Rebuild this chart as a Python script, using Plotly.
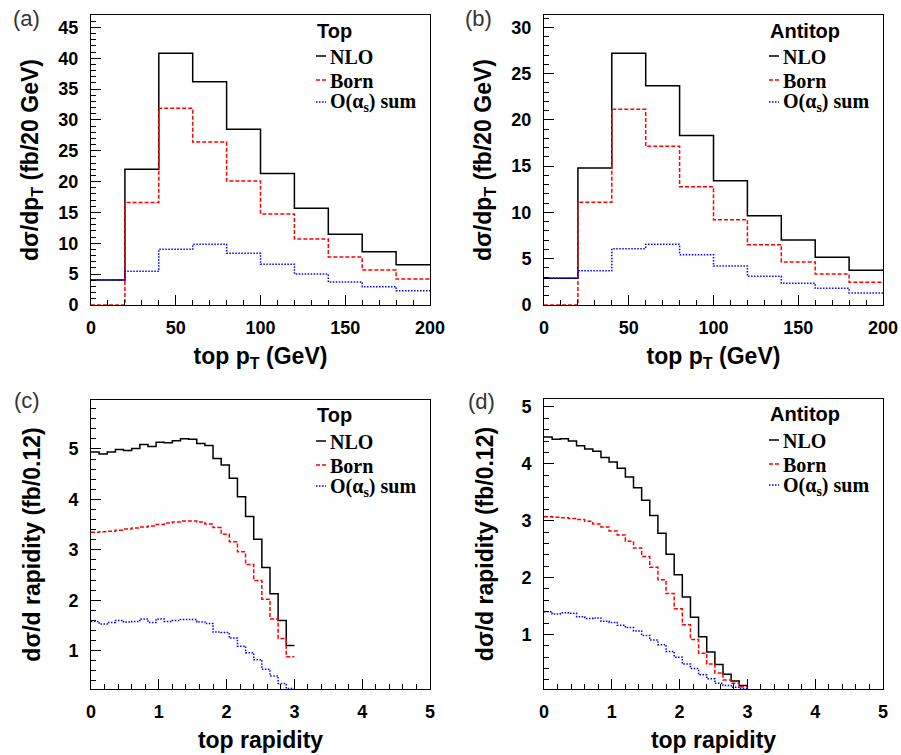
import plotly.graph_objects as go

# bin edges
pt_edges = [0, 20, 40, 60, 80, 100, 120, 140, 160, 180, 200]
rap_edges = [0.0, 0.12, 0.24, 0.36, 0.48, 0.6, 0.72, 0.84, 0.96, 1.08, 1.2, 1.32, 1.44,
             1.56, 1.68, 1.8, 1.92, 2.04, 2.16, 2.28, 2.4, 2.52, 2.64, 2.76, 2.88, 3.0]

# (a) top pT, fb/20 GeV
top_pt_nlo = [4.05, 22.0, 40.8, 36.2, 28.5, 21.3, 15.7, 11.45, 8.64, 6.54]
top_pt_born = [0.0, 16.6, 31.9, 26.4, 20.1, 14.75, 10.7, 7.78, 5.67, 4.21]
top_pt_oas = [4.05, 5.46, 9.02, 9.83, 8.37, 6.59, 5.02, 3.73, 2.97, 2.32]

# (b) antitop pT
atop_pt_nlo = [2.88, 14.8, 27.2, 23.7, 18.3, 13.43, 9.65, 7.02, 5.15, 3.75]
atop_pt_born = [0.0, 11.09, 21.14, 17.14, 12.78, 9.22, 6.52, 4.65, 3.35, 2.45]
atop_pt_oas = [2.88, 3.71, 6.09, 6.55, 5.44, 4.21, 3.10, 2.34, 1.80, 1.30]

# (c) top rapidity, fb/0.12
top_y_nlo = [4.94, 4.90, 4.94, 4.99, 4.97, 5.01, 5.09, 5.05, 5.13, 5.12, 5.16, 5.20, 5.19,
             5.11, 5.07, 4.81, 4.68, 4.42, 4.05, 3.66, 3.21, 2.65, 2.13, 1.60, 1.10]
top_y_born = [3.35, 3.36, 3.37, 3.39, 3.41, 3.43, 3.45, 3.47, 3.50, 3.53, 3.55, 3.57, 3.57,
              3.55, 3.51, 3.44, 3.31, 3.16, 2.96, 2.71, 2.39, 2.02, 1.63, 1.24, 0.88]
top_y_oas = [1.58, 1.53, 1.56, 1.60, 1.57, 1.58, 1.63, 1.56, 1.63, 1.58, 1.60, 1.62, 1.62,
             1.57, 1.54, 1.37, 1.36, 1.25, 1.09, 0.96, 0.82, 0.63, 0.50, 0.35, 0.25]

# (d) antitop rapidity
atop_y_nlo = [4.47, 4.43, 4.44, 4.40, 4.32, 4.26, 4.22, 4.11, 4.03, 3.92, 3.77, 3.58, 3.36,
              3.09, 2.78, 2.41, 2.05, 1.66, 1.30, 0.96, 0.69, 0.47, 0.30, 0.18, 0.10]
atop_y_born = [3.07, 3.06, 3.05, 3.04, 3.02, 2.99, 2.94, 2.89, 2.82, 2.75, 2.64, 2.52, 2.37,
               2.18, 1.96, 1.72, 1.45, 1.17, 0.91, 0.67, 0.48, 0.32, 0.20, 0.14, 0.08]
atop_y_oas = [1.40, 1.36, 1.38, 1.37, 1.31, 1.28, 1.29, 1.23, 1.21, 1.16, 1.12, 1.06, 0.98,
              0.90, 0.82, 0.70, 0.60, 0.48, 0.40, 0.29, 0.22, 0.14, 0.10, 0.07, 0.05]

W, H = 901, 755
def px(x):
    return x / W
def py(y):
    return 1 - y / H

SANS = "Liberation Sans"
SERIF = "Liberation Serif"

styles = [
    dict(name="NLO", color="black", dash="solid"),
    dict(name="Born", color="red", dash="4px,2px"),
    dict(name="O(α<sub>s</sub>) sum", color="blue", dash="1.5px,1.5px"),
]

panels = [
    dict(label="(a)", lab_xy=(26, 19), head="Top", edges=pt_edges,
         data=[top_pt_nlo, top_pt_born, top_pt_oas],
         box=(91, 430, 15, 305), xr=[0, 200], yr=[0, 47.0],
         xd=(50, 10), yd=(5, 1), xt="top p<sub>T</sub> (GeV)",
         yt="dσ/dp<sub>T</sub> (fb/20 GeV)", ystand=13),
    dict(label="(b)", lab_xy=(478, 18), head="Antitop", edges=pt_edges,
         data=[atop_pt_nlo, atop_pt_born, atop_pt_oas],
         box=(544, 883, 15, 305), xr=[0, 200], yr=[0, 31.33],
         xd=(50, 10), yd=(5, 1), xt="top p<sub>T</sub> (GeV)",
         yt="dσ/dp<sub>T</sub> (fb/20 GeV)", ystand=13),
    dict(label="(c)", lab_xy=(27, 400), head="Top", edges=rap_edges,
         data=[top_y_nlo, top_y_born, top_y_oas],
         box=(91, 430, 400, 689), xr=[0, 5], yr=[0.24, 5.97],
         xd=(1, 0.2), yd=(1, 0.2), xt="top rapidity",
         yt="dσ/d rapidity (fb/0.12)", ystand=21),
    dict(label="(d)", lab_xy=(482, 401), head="Antitop", edges=rap_edges,
         data=[atop_y_nlo, atop_y_born, atop_y_oas],
         box=(544, 883, 399, 689), xr=[0, 5], yr=[0.04, 5.14],
         xd=(1, 0.2), yd=(1, 0.2), xt="top rapidity",
         yt="dσ/d rapidity (fb/0.12)", ystand=21),
]

fig = go.Figure()
annotations = []
shapes = []
layout_axes = {}

for i, p in enumerate(panels):
    n = "" if i == 0 else str(i + 1)
    x0, x1, y0, y1 = p["box"]
    for vals, st in zip(p["data"], styles):
        fig.add_trace(go.Scatter(
            x=p["edges"], y=vals + [vals[-1]],
            mode="lines", line_shape="hv",
            line=dict(color=st["color"], width=1.5, dash=st["dash"]),
            xaxis="x" + n, yaxis="y" + n, name=st["name"], hoverinfo="x+y",
        ))

    common = dict(
        ticks="inside", ticklen=10, tickwidth=1, tickcolor="black",
        showline=True, linecolor="black", linewidth=1, mirror=True,
        showgrid=False, zeroline=False, automargin=False, tick0=0,
        tickfont=dict(family=SANS, size=18, color="black", weight="bold"),
    )
    layout_axes["xaxis" + n] = dict(
        common, domain=[px(x0), px(x1)], range=p["xr"], anchor="y" + n,
        dtick=p["xd"][0], ticklabelstandoff=6,
        minor=dict(ticks="inside", ticklen=5, dtick=p["xd"][1], tickcolor="black", showgrid=False),
        title=dict(text=p["xt"], standoff=11,
                   font=dict(family=SANS, size=23, color="black", weight="bold")),
    )
    layout_axes["yaxis" + n] = dict(
        common, domain=[py(y1), py(y0)], range=p["yr"], anchor="x" + n,
        dtick=p["yd"][0], ticklabelstandoff=8,
        minor=dict(ticks="inside", ticklen=5, dtick=p["yd"][1], tickcolor="black", showgrid=False),
        title=dict(text=p["yt"], standoff=p["ystand"],
                   font=dict(family=SANS, size=23, color="black", weight="bold")),
    )

    # panel label
    annotations.append(dict(
        text=p["label"], x=px(p["lab_xy"][0]), y=py(p["lab_xy"][1]),
        xref="paper", yref="paper", xanchor="center", yanchor="middle",
        showarrow=False, font=dict(family=SANS, size=22, color="#333333")))

    # legend block
    lx = x0 + 224
    if i < 2:
        rows = [y0 + 16, y0 + 42, y0 + 66, y0 + 88]
    else:
        rows = [y0 + 15, y0 + 42, y0 + 66, y0 + 87]
    annotations.append(dict(
        text=p["head"], x=px(lx), y=py(rows[0]), xref="paper", yref="paper",
        xanchor="left", yanchor="middle", showarrow=False,
        font=dict(family=SANS, size=20, color="black", weight="bold")))
    for st, ry in zip(styles, rows[1:]):
        annotations.append(dict(
            text=st["name"], x=px(lx + 13), y=py(ry), xref="paper", yref="paper",
            xanchor="left", yanchor="middle", showarrow=False,
            font=dict(family=SERIF, size=20, color="black", weight="bold")))
        shapes.append(dict(
            type="line", xref="paper", yref="paper",
            x0=px(lx + 1), x1=px(lx + 11), y0=py(ry - 1), y1=py(ry - 1),
            line=dict(color=st["color"], width=1.5, dash=st["dash"])))

fig.update_layout(
    template="none",
    width=W, height=H,
    margin=dict(l=0, r=0, t=0, b=0),
    paper_bgcolor="white", plot_bgcolor="white",
    showlegend=False,
    annotations=annotations, shapes=shapes,
    **layout_axes,
)

# drop the browser's default 8px body margin so the figure sits at the page origin
fig.write_html("out.html", config={"displayModeBar": False},
               post_script="document.body.style.margin='0';")
